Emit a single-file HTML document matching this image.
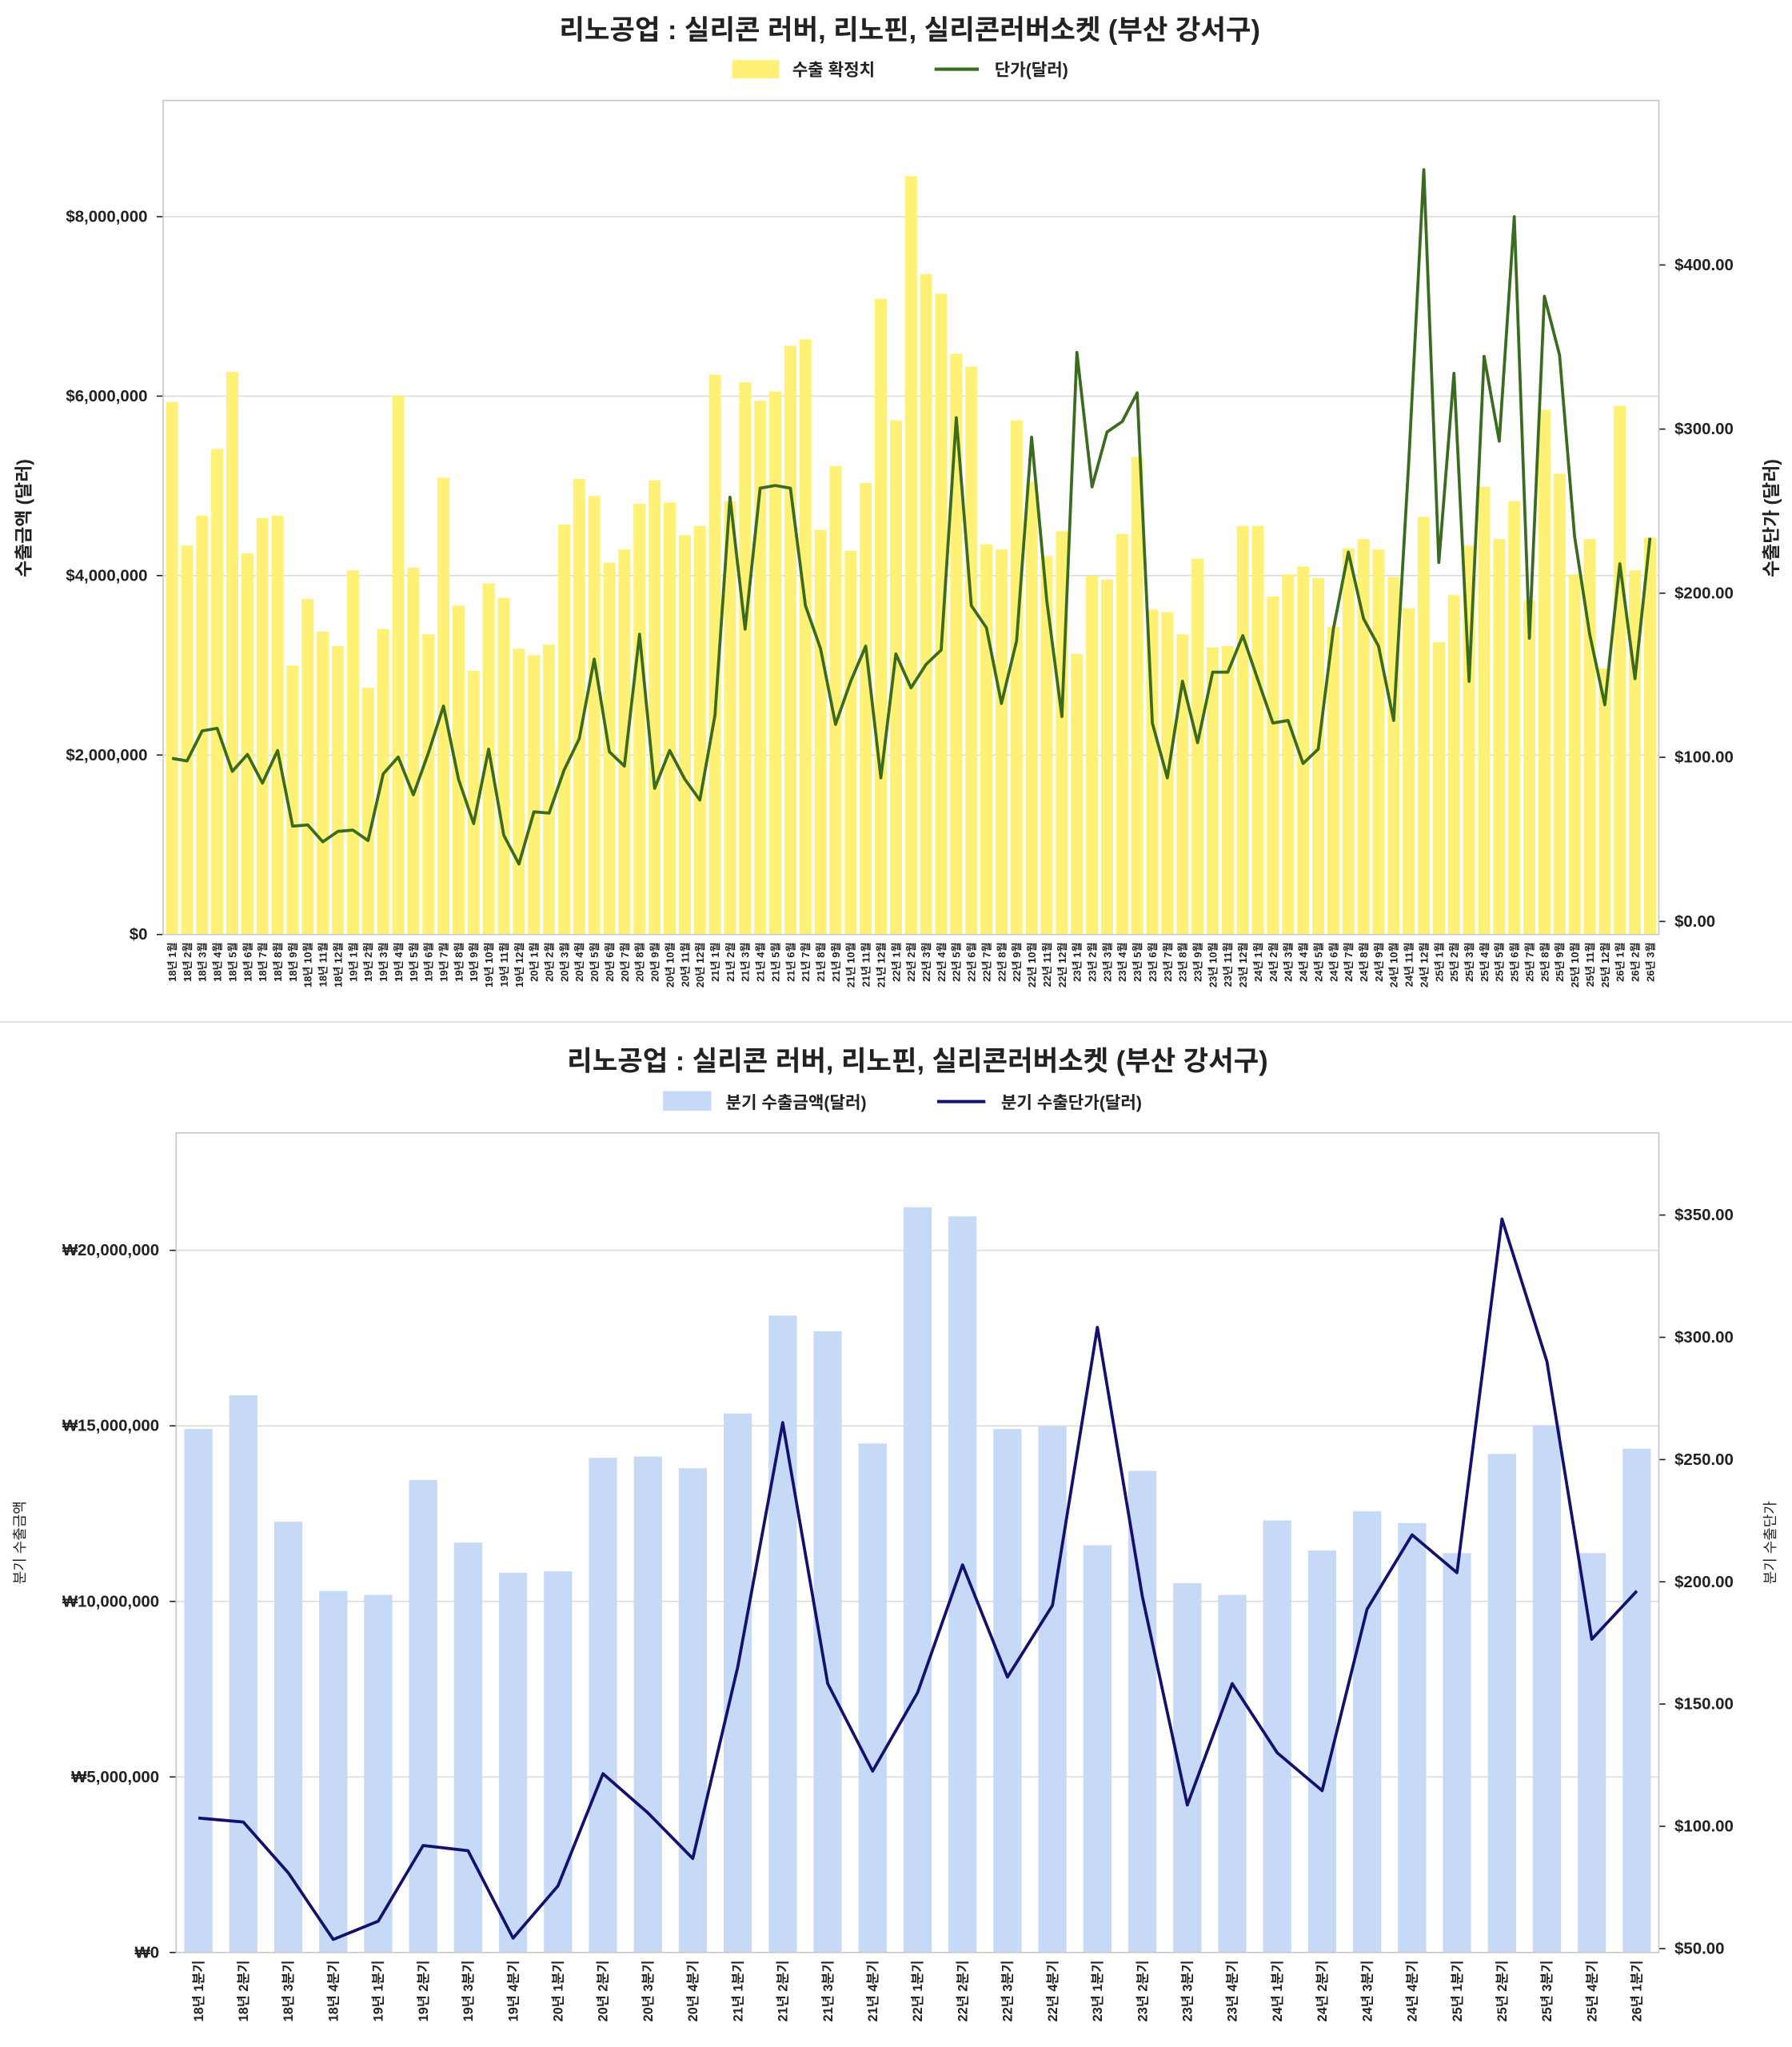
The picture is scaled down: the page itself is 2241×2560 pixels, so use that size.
<!DOCTYPE html>
<html><head><meta charset="utf-8"><style>
html,body{margin:0;padding:0;background:#fff;}
svg{display:block;font-family:"Liberation Sans","Noto Sans CJK KR",sans-serif;}
</style></head><body>
<svg id="s" xmlns="http://www.w3.org/2000/svg" width="2241" height="2560" viewBox="0 0 1373 1568.4"></svg>
<script>
const NS="http://www.w3.org/2000/svg";const s=document.getElementById('s');
function el(t,a,txt){const e=document.createElementNS(NS,t);for(const k in a)e.setAttribute(k,a[k]);if(txt!==undefined)e.textContent=txt;s.appendChild(e);return e;}
function rect(x,y,w,h,f){return el('rect',{x,y,width:w,height:h,fill:f});}
function line(x1,y1,x2,y2,c,w){return el('line',{x1,y1,x2,y2,stroke:c,'stroke-width':w});}
function text(x,y,t,o){const a=Object.assign({x,y,fill:'#222','font-size':12,'font-weight':'bold'},o||{});return el('text',a,t);}
// separator
line(0,783,1373,783,'#ddd',1);
// ---- Chart 1 ----
const L1=125,R1=1271,T1=77,B1=716;
text(697,30,'리노공업 : 실리콘 러버, 리노핀, 실리콘러버소켓 (부산 강서구)',{'font-size':21,'text-anchor':'middle'});
rect(561,46,36,14,'#fff176');text(607,58,'수출 확정치',{'font-size':13});
line(716,53,750,53,'#3a6b1e',2.5);text(762,58,'단가(달러)',{'font-size':13});
const yl1=[[0,716],[2,578.5],[4,441],[6,303.5],[8,166]];
yl1.forEach(([v,y])=>{if(v>0)line(L1,y,R1,y,'#dcdcdc',1);line(L1-5,y,L1,y,'#222',1);text(113,y+4,'$'+(v*1000000).toLocaleString('en-US'),{'text-anchor':'end','font-size':12.5});});
[[0,706],[100,580.25],[200,454.5],[300,328.75],[400,203]].forEach(([v,y])=>{line(R1,y,R1+5,y,'#222',1);text(1283,y+4,'$'+v.toFixed(2),{'font-size':12.5});});
const b1=[308,418,395,344,285,424,397,395,510,459,484,495,437,527,482,303,435,486,366,464,514,447,458,497,502,494,402,367,380,431,421,386,368,385,410,403,287,384,293,307,300,265,260,406,357,422,370,229,322,135,210,225,271,281,417,421,322,369,426,407,501,441,444,409,350,467,469,486,428,496,495,403,403,457,440,434,443,480,420,413,421,442,466,396,492,456,418,373,413,384,460,314,363,440,413,512,311,437,412];
const l1=[581,583,560,558,591,578,600,575,633,632,645,637,636,644,593,580,609,577,541,597,631,574,640,662,622,623,590,566,505,576,587,486,604,575,597,613,548,381,482,374,372,374,464,497,555,522,495,596,501,527,509,498,320,464,481,539,491,335,460,549,270,373,331,323,301,554,596,522,569,515,515,487,521,554,552,585,574,482,423,474,495,552,355,130,431,286,522,273,338,166,489,227,272,411,486,540,432,520,412];
const n1=99,dx1=(R1-L1-2)/n1;
const yrs=[];for(let y=18;y<=26;y++)for(let m=1;m<=12;m++){if(y==26&&m>3)break;yrs.push(y+'년 '+m+'월');}
let pts=[];
for(let i=0;i<n1;i++){const cx=L1+1+dx1*(i+0.5);rect(cx-4.6,b1[i],9.2,B1-b1[i],'#fff176');pts.push(cx.toFixed(1)+','+l1[i]);
 const t=text(0,0,yrs[i],{'font-size':8,'text-anchor':'end',transform:`translate(${cx+3},722) rotate(-90)`});}
el('polyline',{points:pts.join(' '),fill:'none',stroke:'#3a6b1e','stroke-width':2.3,'stroke-linejoin':'round'});
el('rect',{x:L1,y:T1,width:R1-L1,height:B1-T1,fill:'none',stroke:'#c8c8c8','stroke-width':1});
text(0,0,'수출금액 (달러)',{'font-size':14,'text-anchor':'middle',transform:'translate(23,397) rotate(-90)'});
text(0,0,'수출단가 (달러)',{'font-size':14,'text-anchor':'middle',transform:'translate(1362,397) rotate(-90)'});
// ---- Chart 2 ----
const L2=135,R2=1271,T2=868,B2=1496;
text(703,820,'리노공업 : 실리콘 러버, 리노핀, 실리콘러버소켓 (부산 강서구)',{'font-size':21,'text-anchor':'middle'});
rect(508,836,37,15,'#c6d9f7');text(556,849,'분기 수출금액(달러)',{'font-size':13});
line(718,844,755,844,'#14106e',2.5);text(767,849,'분기 수출단가(달러)',{'font-size':13});
[[0,1496],[5,1361.5],[10,1227],[15,1092.5],[20,958]].forEach(([v,y])=>{if(v>0)line(L2,y,R2,y,'#dcdcdc',1);line(L2-5,y,L2,y,'#222',1);text(122,y+4,'₩'+(v*1000000).toLocaleString('en-US'),{'text-anchor':'end','font-size':12.5});});
[50,100,150,200,250,300,350].forEach((v,i)=>{const y=1493-i*93.67;line(R2,y,R2+5,y,'#222',1);text(1283,y+4,'$'+v.toFixed(2),{'font-size':12.5});});
const b2=[1095,1069,1166,1219,1222,1134,1182,1205,1204,1117,1116,1125,1083,1008,1020,1106,925,932,1095,1093,1184,1127,1213,1222,1165,1188,1158,1167,1190,1114,1092,1190,1110];
const l2=[1393,1396,1435,1486,1472,1414,1418,1485,1445,1359,1389,1424,1277,1090,1290,1357,1297,1199,1285,1230,1017,1223,1383,1290,1343,1372,1233,1176,1205,934,1043,1256,1219];
pts=[];
for(let i=0;i<33;i++){const cx=152+i*34.44;rect(cx-10.8,b2[i],21.6,B2-b2[i],'#c6d9f7');pts.push(cx.toFixed(1)+','+l2[i]);
 const y=18+Math.floor(i/4),q=i%4+1;text(0,0,y+'년 '+q+'분기',{'font-size':10,'text-anchor':'end',transform:`translate(${cx+3.5},1502) rotate(-90)`});}
el('polyline',{points:pts.join(' '),fill:'none',stroke:'#14106e','stroke-width':2.3,'stroke-linejoin':'round'});
el('rect',{x:L2,y:T2,width:R2-L2,height:B2-T2,fill:'none',stroke:'#c8c8c8','stroke-width':1});
text(0,0,'분기 수출금액',{'font-size':11,'font-weight':'normal','text-anchor':'middle',transform:'translate(19,1182) rotate(-90)'});
text(0,0,'분기 수출단가',{'font-size':11,'font-weight':'normal','text-anchor':'middle',transform:'translate(1360,1182) rotate(-90)'});
</script>
</body></html>
